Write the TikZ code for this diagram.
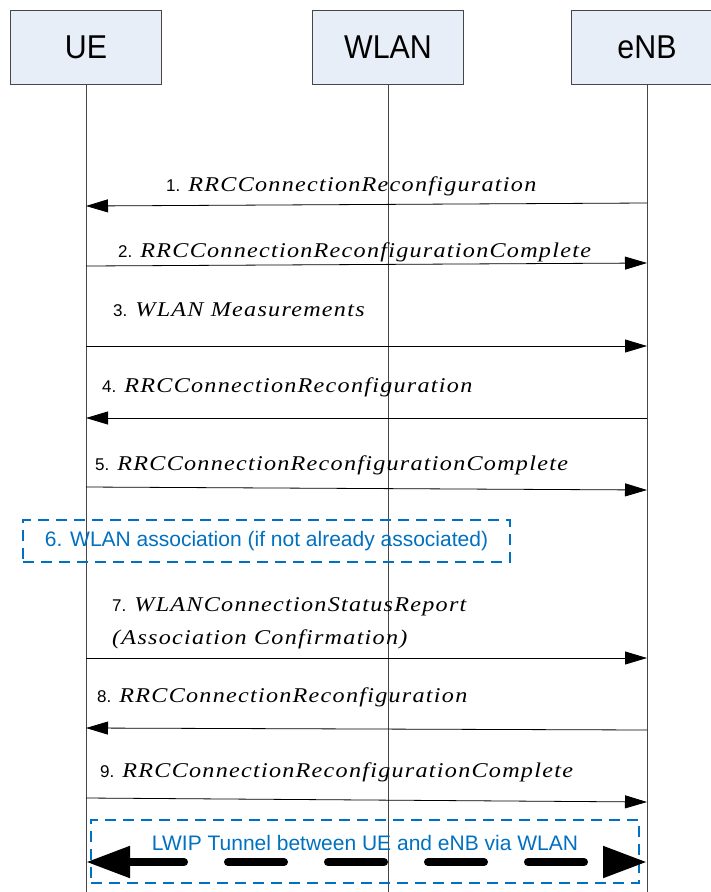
\documentclass[tikz,border=0pt]{standalone}
\usepackage{fontspec}
\setmainfont{Liberation Sans}
\newfontfamily\msgfont{Liberation Serif}[FakeStretch=1.15,LetterSpace=6]
\newfontfamily\boxfont{Liberation Sans}[FakeStretch=0.92]
\usetikzlibrary{arrows.meta,calc}
\definecolor{boxfill}{RGB}{232,238,248}
\definecolor{lifeline}{RGB}{70,70,70}
\definecolor{notecol}{RGB}{0,112,192}
\newcommand{\msgname}[1]{{\msgfont\itshape\fontsize{21}{25}\selectfont #1}}

\begin{document}
\begin{tikzpicture}[x=1pt,y=-1pt,
  entity/.style={draw=lifeline,fill=boxfill,minimum width=151pt,minimum height=74pt,inner sep=0pt,font=\boxfont\fontsize{33}{38}\selectfont},
  msg/.style={-{Triangle[length=22pt,width=13pt]},line width=0.8pt},
  lab/.style={anchor=base west,inner sep=0pt,font=\fontsize{17}{20}\selectfont},
  notebox/.style={draw=notecol,dash pattern=on 11pt off 7pt,line width=1.5pt,inner sep=0pt,text=notecol,font=\fontsize{21}{24}\selectfont},
  tunnel/.style={{Triangle[length=44pt,width=30pt]}-{Triangle[length=44pt,width=30pt]},line width=8pt,line cap=round,dash pattern=on 56pt off 44pt}]
  \useasboundingbox (0,0) rectangle (711,892);
  % entities and lifelines
  \node[entity] (ue) at (86,47) {UE};
  \node[entity] (wlan) at (388,47) {WLAN};
  \node[entity] (enb) at (647,47) {eNB};
  \foreach \n in {ue,wlan,enb}{
    \draw[lifeline] (\n.south) -- (\n.south |- 0,892);}
  \foreach \i/\yu/\ye in {1/206/203,2/266/263,3/346/346,4/418/418,5/487/490,7/658/658,8/728/730,9/798/802}{
    \coordinate (u\i) at (ue.south |- 0,\yu);
    \coordinate (e\i) at (enb.south |- 0,\ye);}
  % messages
  \node[lab] (l1) at (166,191) {1.\hspace{8pt}\msgname{RRCConnectionReconfiguration}};
  \draw[msg] (e1) -- (u1);
  \node[lab] (l2) at (118,257) {2.\hspace{8pt}\msgname{RRCConnectionReconfigurationComplete}};
  \draw[msg] (u2) -- (e2);
  \node[lab] (l3) at (113,316) {3.\hspace{8pt}\msgname{WLAN Measurements}};
  \draw[msg] (u3) -- (e3);
  \node[lab] (l4) at (102,392) {4.\hspace{8pt}\msgname{RRCConnectionReconfiguration}};
  \draw[msg] (e4) -- (u4);
  \node[lab] (l5) at (95,470) {5.\hspace{8pt}\msgname{RRCConnectionReconfigurationComplete}};
  \draw[msg] (u5) -- (e5);
  \node[notebox,minimum width=487pt,minimum height=42pt] (assoc) at (266.5,541) {6. WLAN association (if not already associated)};
  \node[lab] (l7) at (112,611) {7.\hspace{8pt}\msgname{WLANConnectionStatusReport}};
  \node[lab] (l7b) at (112,644) {\msgname{(Association Confirmation)}};
  \draw[msg] (u7) -- (e7);
  \node[lab] (l8) at (97,702) {8.\hspace{8pt}\msgname{RRCConnectionReconfiguration}};
  \draw[msg] (e8) -- (u8);
  \node[lab] (l9) at (100,777) {9.\hspace{8pt}\msgname{RRCConnectionReconfigurationComplete}};
  \draw[msg] (u9) -- (e9);
  % tunnel
  \node[notebox,minimum width=548pt,minimum height=63pt] (tunnelbox) at (365,851.5) {};
  \node[anchor=base,inner sep=0pt,text=notecol,font=\fontsize{21}{24}\selectfont] (tunnellab) at (365,850) {LWIP Tunnel between UE and eNB via WLAN};
  \coordinate (ut) at (ue.south |- 0,862);
  \coordinate (et) at (enb.south |- 0,862);
  \draw[tunnel] (ut) -- (et);
\end{tikzpicture}
\end{document}
